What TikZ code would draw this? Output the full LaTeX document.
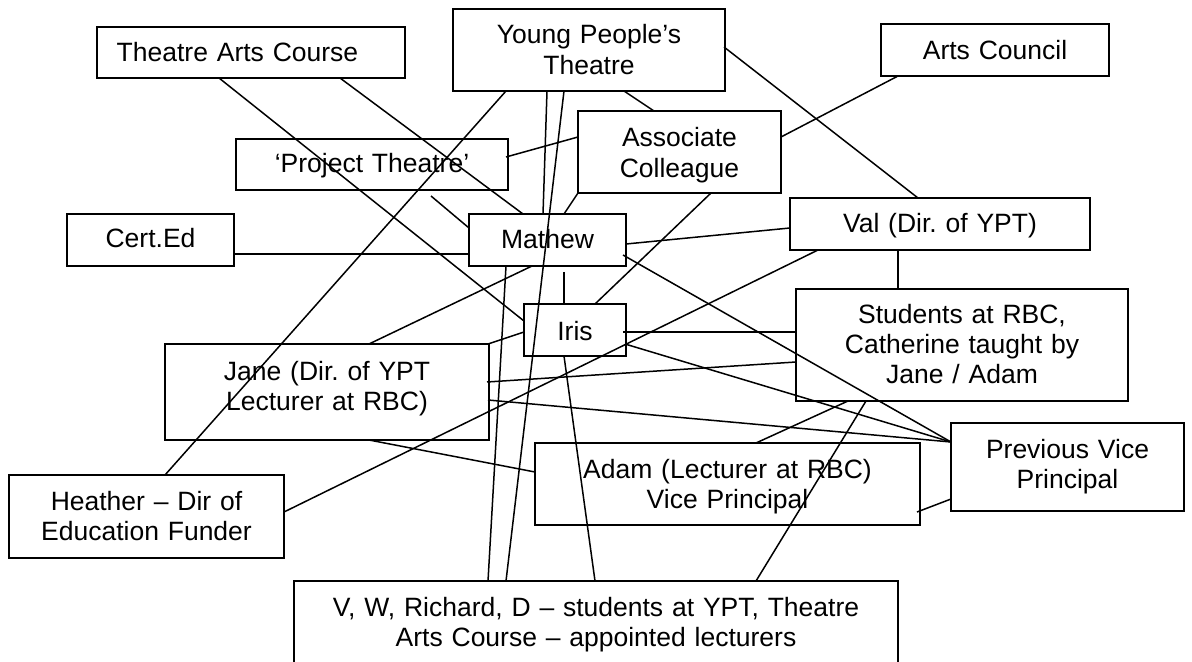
\documentclass[tikz,border=0pt]{standalone}
\usepackage{fontspec}
\setmainfont{Liberation Sans}
\usetikzlibrary{calc}
\frenchspacing
\tikzset{
  box/.style={draw, line width=1pt, inner sep=0pt, outer sep=0pt, align=center,
    text height=17.5pt, anchor=north west, font=\fontsize{13.25pt}{15.2pt}\selectfont\frenchspacing},
  link/.style={line width=0.75pt},
}
\begin{document}
\begin{tikzpicture}[x=0.5pt, y=-0.5pt]
\useasboundingbox (0,0) rectangle (1192,662);
\clip (0,0) rectangle (1192,662);
% boxes
\node[box, text width=154pt, text depth=8pt] (tac) at (97,27) {Theatre Arts Course\kern13.5pt};
\node[box, text width=136pt, text depth=23.5pt] (ypt) at (453,9) {Young People’s\\Theatre};
\node[box, text width=114pt, text height=18pt, text depth=8pt] (ac) at (881,24) {Arts Council};
\node[box, text width=136pt, text height=17pt, text depth=8.5pt] (pt) at (236,139) {‘Project Theatre’};
\node[box, text width=101.5pt, text height=18pt, text depth=23pt] (assoc) at (578,111) {Associate\\Colleague};
\node[box, text width=83.5pt, text height=17pt, text depth=9pt] (cert) at (67,214) {Cert.Ed};
\node[box, text width=78.5pt, text depth=8.5pt] (mat) at (469,214) {Mathew};
\node[box, text width=150pt, text depth=8.5pt] (val) at (790,198) {Val (Dir. of YPT)};
\node[box, text width=51pt, text height=18pt, text depth=8pt] (iris) at (524,304) {Iris};
\node[box, text width=166pt, text height=17pt, text depth=39pt] (stud) at (796,289) {Students at RBC,\\Catherine taught by\\Jane / Adam};
\node[box, text width=162pt, text height=18pt, text depth=30pt] (jane) at (165,344) {Jane (Dir. of YPT\\Lecturer at RBC)};
\node[box, text width=192.5pt, text depth=23.5pt] (adam) at (535,443) {Adam (Lecturer at RBC)\\Vice Principal};
\node[box, text width=116.5pt, text depth=26.5pt] (pvp) at (951,423) {Previous Vice\\Principal};
\node[box, text width=137.5pt, text depth=24pt] (heather) at (9,475) {Heather – Dir of\\Education Funder};
\node[box, text width=302pt, text depth=37pt] (vw) at (294,581) {V, W, Richard, D – students at YPT, Theatre\\Arts Course – appointed lecturers};
% connectors
\draw[link] ($(tac.south west)+(122,0)$) -- ($(iris.north west)+(0,17)$);
\draw[link] ($(tac.south west)+(243,0)$) -- ($(mat.north west)+(54,0)$);
\draw[link] ($(ypt.south west)+(53,0)$) -- ($(heather.north west)+(156,0)$);
\draw[link] ($(ypt.south west)+(94,0)$) -- ($(mat.north west)+(74,0)$);
\draw[link] ($(ypt.south west)+(111,0)$) -- ($(vw.north west)+(212,0)$);
\draw[link] ($(pt.north east)+(-2,18)$) -- ($(assoc.north west)+(0,26)$);
\draw[link] ($(pt.south west)+(195,6)$) -- ($(mat.north west)+(0,14)$);
\draw[link] ($(cert.north east)+(0,40)$) -- ($(mat.north west)+(0,40)$);
\draw[link] (assoc.south west) -- ($(mat.north west)+(95,0)$);
\draw[link] ($(ypt.south west)+(171,0)$) -- ($(assoc.north west)+(76,0)$);
\draw[link] ($(ypt.north east)+(-1,38)$) -- ($(val.north west)+(128,0)$);
\draw[link] ($(ac.south west)+(17,0)$) -- ($(assoc.north east)+(0,26)$);
\draw[link] ($(assoc.south west)+(133,0)$) -- ($(iris.north west)+(71,0)$);
\draw[link] ($(mat.north east)+(0,30)$) -- ($(val.north west)+(0,30)$);
\draw[link] ($(mat.north east)+(-3,41)$) -- ($(pvp.north west)+(0,19)$);
\draw[link] ($(val.south west)+(108,0)$) -- ($(stud.north west)+(102,0)$);
\draw[link] ($(val.south west)+(28,0)$) -- ($(heather.north east)+(0,37)$);
\draw[link] ($(mat.south west)+(63,0)$) -- ($(jane.north west)+(204,0)$);
\draw[link] ($(mat.south west)+(95,6)$) -- ($(iris.north west)+(40,0)$);
\draw[link] ($(mat.south west)+(37,0)$) -- ($(vw.north west)+(194,0)$);
\draw[link] ($(iris.north west)+(0,28)$) -- ($(jane.north east)+(-1,0)$);
\draw[link] ($(iris.north east)+(-3,28)$) -- ($(stud.north west)+(0,43)$);
\draw[link] ($(iris.north east)+(-1,40)$) -- ($(pvp.north west)+(0,19)$);
\draw[link] ($(iris.south west)+(40,0)$) -- ($(vw.north west)+(301,0)$);
\draw[link] ($(jane.north east)+(-2,38)$) -- ($(stud.north west)+(0,73)$);
\draw[link] ($(jane.north east)+(-1,56)$) -- ($(pvp.north west)+(0,19)$);
\draw[link] ($(jane.south west)+(204,0)$) -- ($(adam.north west)+(0,29)$);
\draw[link] ($(stud.south west)+(52,0)$) -- ($(adam.north west)+(221,0)$);
\draw[link] ($(stud.south west)+(70,0)$) -- ($(vw.north west)+(462,0)$);
\draw[link] ($(adam.north east)+(-3,69)$) -- ($(pvp.north west)+(0,76)$);
\end{tikzpicture}
\end{document}
